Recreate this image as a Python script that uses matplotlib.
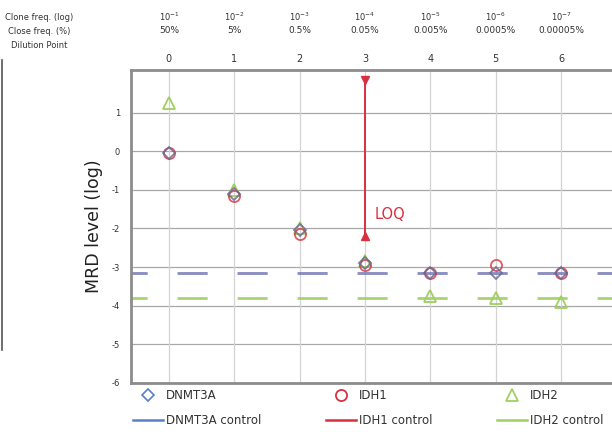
import matplotlib
matplotlib.use("Agg")
import matplotlib.pyplot as plt
from matplotlib.lines import Line2D

# Dilution series
dilution_points = [0, 1, 2, 3, 4, 5, 6]
clone_freq_log = ["10$^{-1}$", "10$^{-2}$", "10$^{-3}$", "10$^{-4}$", "10$^{-5}$", "10$^{-6}$", "10$^{-7}$"]
clone_freq_pct = ["50%", "5%", "0.5%", "0.05%", "0.005%", "0.0005%", "0.00005%"]

# MRD level (log) measured at each dilution point
dnmt3a = [-0.05, -1.10, -2.05, -2.90, -3.15, -3.15, -3.15]
idh1 = [-0.05, -1.15, -2.15, -2.95, -3.15, -2.95, -3.15]
idh2 = [1.25, -1.00, -2.00, -2.85, -3.75, -3.80, -3.90]

# Background (control) levels
dnmt3a_control = -3.15
idh1_control = -3.15
idh2_control = -3.80

# Limit of quantification marker at dilution point 3
loq_point = 3
loq_range = [1.85, -2.20]

C_BLUE = "#5b7fc8"
C_RED = "#d9303f"
C_GREEN = "#9fd060"

fig = plt.figure(figsize=(6.12, 4.32), dpi=100)
ax = fig.add_axes([131 / 612, 49 / 432, 1 - 131 / 612, 313 / 432])

ax.set_xlim(-0.58, 6.78)
ax.set_ylim(-6.0, 2.1)

# grid
for y in range(-6, 2):
    ax.axhline(y, color="#a8a8a8", lw=0.9, zorder=0)
for x in dilution_points:
    ax.axvline(x, color="#d4d4d4", lw=0.9, zorder=0)

# control lines (long dashes)
dash = (5.0, (10.8, 10.8))
ax.axhline(idh1_control, color=C_RED, lw=2, ls=dash, alpha=0.35, zorder=1)
ax.axhline(dnmt3a_control, color=C_BLUE, lw=2, ls=dash, alpha=0.7, zorder=1)
ax.axhline(idh2_control, color=C_GREEN, lw=2, ls=dash, alpha=0.9, zorder=1)

# measured points
ms = 8
ax.plot(dilution_points, idh2, ls="none", marker="^", ms=ms, mfc="none",
        mec=C_GREEN, mew=1.3, zorder=3)
ax.plot(dilution_points, idh1, ls="none", marker="o", ms=ms, mfc="none",
        mec=C_RED, mew=1.3, alpha=0.8, zorder=3)
ax.plot(dilution_points, dnmt3a, ls="none", marker="D", ms=ms - 1.5, mfc="none",
        mec="#6a6a90", mew=1.3, alpha=0.85, zorder=3)

# LOQ indicator
ax.plot([loq_point, loq_point], loq_range, color=C_RED, lw=1.4, zorder=4)
ax.plot([loq_point], [loq_range[0]], marker="v", color=C_RED, ms=6, zorder=4)
ax.plot([loq_point], [loq_range[1]], marker="^", color=C_RED, ms=6, zorder=4)
ax.text(loq_point + 0.15, -1.65, "LOQ", color=C_RED, fontsize=10.5,
        ha="left", va="center")

# axes styling
for side in ("left", "bottom", "top"):
    ax.spines[side].set_color("#8c8c8c")
    ax.spines[side].set_linewidth(2)
ax.spines["right"].set_visible(False)

ax.set_yticks(range(-6, 2))
ax.set_yticklabels([str(v) for v in range(-6, 2)], fontsize=6)
ax.tick_params(axis="y", length=0, pad=8, colors="#333333")
ax.xaxis.tick_top()
ax.set_xticks(dilution_points)
ax.set_xticklabels([str(v) for v in dilution_points], fontsize=7)
ax.tick_params(axis="x", length=0, pad=4, colors="#333333")

ax.set_ylabel("MRD level (log)", fontsize=12.5, labelpad=6, color="#222222")

# header rows above the plot
tr = ax.get_xaxis_transform()
for x, lab_log, lab_pct in zip(dilution_points, clone_freq_log, clone_freq_pct):
    ax.text(x, 1.169, lab_log, transform=tr, ha="center", va="center", fontsize=6, color="#333333")
    ax.text(x, 1.125, lab_pct, transform=tr, ha="center", va="center", fontsize=6.5, color="#333333")

fig.text(39 / 612, 1 - 17 / 432, "Clone freq. (log)", ha="center", va="center", fontsize=6, color="#333333")
fig.text(39 / 612, 1 - 31 / 432, "Close freq. (%)", ha="center", va="center", fontsize=6, color="#333333")
fig.text(39 / 612, 1 - 45 / 432, "Dilution Point", ha="center", va="center", fontsize=6, color="#333333")

# cropped edge on the far left
fig.add_artist(Line2D([1.5 / 612, 1.5 / 612], [1 - 350 / 432, 1 - 60 / 432],
                      transform=fig.transFigure, color="#555555", lw=1.2))

# legend
handles = [
    Line2D([], [], ls="none", marker="D", ms=6, mfc="none", mec=C_BLUE, mew=1.2),
    Line2D([], [], color=C_BLUE, lw=1.8),
    Line2D([], [], ls="none", marker="o", ms=8, mfc="none", mec=C_RED, mew=1.3),
    Line2D([], [], color=C_RED, lw=1.8),
    Line2D([], [], ls="none", marker="^", ms=8, mfc="none", mec=C_GREEN, mew=1.3),
    Line2D([], [], color=C_GREEN, lw=1.8),
]
labels = ["DNMT3A", "DNMT3A control", "IDH1", "IDH1 control", "IDH2", "IDH2 control"]
fig.legend(handles, labels, ncol=3, loc="center left",
           bbox_to_anchor=(122 / 612, 1 - 408 / 432), frameon=False,
           fontsize=8.5, handlelength=2.54, handletextpad=0.25,
           columnspacing=5.5, labelspacing=1.0, labelcolor="#333333")

fig.savefig("out.png", dpi=100)
